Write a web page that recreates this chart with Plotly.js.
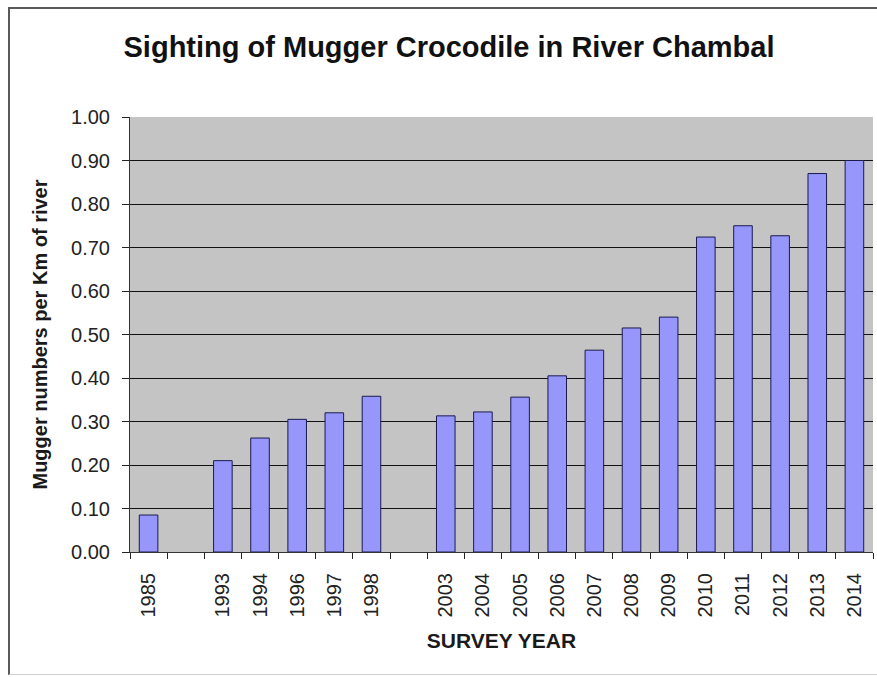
<!DOCTYPE html>
<html>
<head>
<meta charset="utf-8">
<script src="https://cdn.plot.ly/plotly-3.0.1.min.js"></script>
<style>
  html, body { margin: 0; padding: 0; background: #ffffff; }
  #wrap { position: relative; width: 877px; height: 677px; overflow: hidden; }
  #chart { position: absolute; left: 0; top: 0; width: 877px; height: 677px; }
  #frame { position: absolute; left: 8px; top: 7px; width: 880px; height: 665px;
           border-left: 2px solid #5a5a5a; border-top: 2px solid #5a5a5a;
           border-bottom: 1px solid #cfcfcf; pointer-events: none; }
</style>
</head>
<body>
<div id="wrap">
  <div id="chart"></div>
  <div id="frame"></div>
</div>
<script>
// Category slots (blank slots are gaps in the survey record)
const categories = ["1985", " ", "1993", "1994", "1996", "1997", "1998", "  ",
  "2003", "2004", "2005", "2006", "2007", "2008", "2009", "2010", "2011", "2012", "2013", "2014"];
// Mugger numbers per km of river (null = no survey in that slot)
const values = [0.085, null, 0.21, 0.262, 0.305, 0.32, 0.358, null,
  0.313, 0.322, 0.356, 0.405, 0.464, 0.515, 0.54, 0.724, 0.75, 0.727, 0.87, 0.90];
const yTicks = [0, 0.1, 0.2, 0.3, 0.4, 0.5, 0.6, 0.7, 0.8, 0.9, 1.0];

const font = "Liberation Sans, Arial, sans-serif";

const trace = {
  type: "bar",
  x: categories,
  y: values,
  marker: { color: "#9797fb", line: { color: "#1a1a50", width: 1 } },
  hoverinfo: "x+y"
};

const layout = {
  width: 877, height: 677,
  margin: { l: 130, r: 4, t: 117, b: 125 },
  paper_bgcolor: "rgba(0,0,0,0)",
  plot_bgcolor: "#c4c4c4",
  bargap: 0.5,
  showlegend: false,
  title: {
    text: "<b>Sighting of Mugger Crocodile in River Chambal</b>",
    font: { family: font, size: 29, color: "#111111" },
    x: 449 / 877, xref: "container", xanchor: "center",
    y: 1 - 47 / 677, yref: "container", yanchor: "middle"
  },
  xaxis: {
    type: "category",
    categoryorder: "array",
    categoryarray: categories,
    tickson: "boundaries",
    ticks: "outside", ticklen: 6, tickcolor: "#222222", tickwidth: 1,
    tickangle: -90,
    tickfont: { family: font, size: 20, color: "#222222" },
    ticklabelstandoff: 12,
    showline: true, linecolor: "#333333", linewidth: 1,
    showgrid: false,
    title: {
      text: "<b>SURVEY YEAR</b>",
      font: { family: font, size: 21, color: "#1a1a1a" },
      standoff: 16
    },
    automargin: false
  },
  yaxis: {
    range: [0, 1.0],
    tickvals: yTicks,
    tickformat: ".2f",
    ticks: "outside", ticklen: 7, tickcolor: "#222222", tickwidth: 1,
    tickfont: { family: font, size: 20, color: "#222222" },
    ticklabelstandoff: 8,
    showline: true, linecolor: "#333333", linewidth: 1,
    showgrid: true, gridcolor: "#111111", gridwidth: 1,
    zeroline: false,
    title: {
      text: "<b>Mugger numbers per Km of river</b>",
      font: { family: font, size: 20, color: "#1a1a1a" },
      standoff: 18
    },
    automargin: false
  }
};

Plotly.newPlot("chart", [trace], layout, { displayModeBar: false, staticPlot: true });
</script>
</body>
</html>
